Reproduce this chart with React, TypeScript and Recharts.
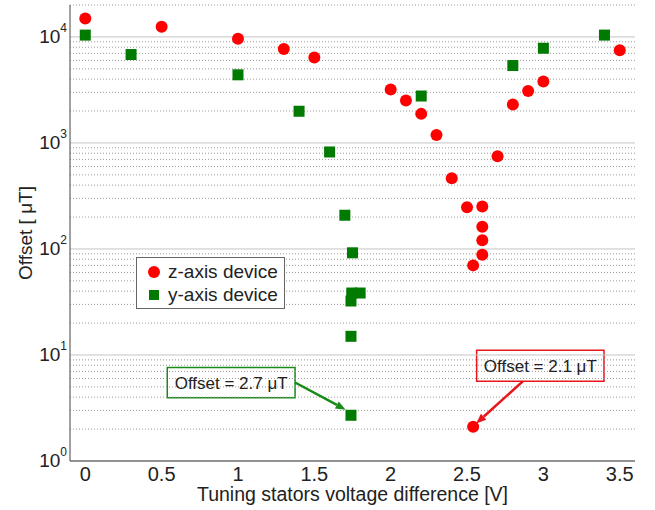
import { ScatterChart, Scatter, XAxis, YAxis, Legend, ReferenceArea, ReferenceLine } from 'recharts';

// z-axis device (red circles)
const Z_VOLT = [0, 0.5, 1, 1.3, 1.5, 2.0, 2.1, 2.2, 2.3, 2.4, 2.5, 2.6, 2.6, 2.6, 2.6, 2.54, 2.54, 2.7, 2.8, 2.9, 3.0, 3.5];
const Z_OFFSET = [14900, 12500, 9600, 7700, 6400, 3190, 2510, 1880, 1190, 464, 247, 251, 162, 121, 88, 70, 2.1, 750, 2300, 3090, 3790, 7500];

// y-axis device (green squares)
const Y_VOLT = [0, 0.3, 1.0, 1.4, 1.6, 1.7, 1.75, 1.745, 1.8, 1.74, 1.74, 1.74, 2.2, 2.8, 3.0, 3.4];
const Y_OFFSET = [10400, 6820, 4390, 1990, 822, 208, 92, 38.4, 38.4, 32.3, 15, 2.7, 2770, 5370, 7820, 10400];

const X_TICKS = [0, 0.5, 1, 1.5, 2, 2.5, 3, 3.5];
const DECADES = [1, 10, 100, 1000, 10000];
const MINOR_STEPS = [2, 3, 4, 5, 6, 7, 8, 9];
const MINORS = DECADES.flatMap(d => MINOR_STEPS.map(m => m * d)).filter(v => v <= 20000);
const Y_DOMAIN = [1, 20000];

// callouts: box corners in data units, arrow start -> end
const NOTES = [
  { text: 'Offset = 2.7 \u03bcT', color: '#1a8a1a', box: [0.537, 1.374, 3.95, 7.6], from: { x: 1.374, y: 5.5 }, to: { x: 1.705, y: 3.05 } },
  { text: 'Offset = 2.1 \u03bcT', color: '#e8161b', box: [2.563, 3.397, 5.64, 11.1], from: { x: 2.865, y: 5.64 }, to: { x: 2.56, y: 2.26 } },
];

const RED = '#ff0000';
const GREEN = '#007a00';
const FONT = '"Liberation Sans", Arial, sans-serif';

const zData = Z_VOLT.map((v, i) => ({ v, o: Z_OFFSET[i] }));
const yData = Y_VOLT.map((v, i) => ({ v, o: Y_OFFSET[i] }));

const LogTick = ({ x, y, payload }: any) => {
  const exp = Math.round(Math.log10(payload.value));
  return (
    <text x={x} y={y} textAnchor="end" fontSize={19} fill="#222" fontFamily={FONT} dy={6}>
      10<tspan dy={-11} fontSize={12}>{exp}</tspan>
    </text>
  );
};

const NoLabel = () => <g />;

const Arrow = (color: string) => (p: any) => {
  const { x1, y1, x2, y2 } = p;
  const a = Math.atan2(y2 - y1, x2 - x1);
  const L = 10, W = 4;
  const bx = x2 - L * Math.cos(a), by = y2 - L * Math.sin(a);
  const pts = `${x2},${y2} ${bx - W * Math.sin(a)},${by + W * Math.cos(a)} ${bx + W * Math.sin(a)},${by - W * Math.cos(a)}`;
  return (
    <g>
      <line x1={x1} y1={y1} x2={bx} y2={by} stroke={color} strokeWidth={2.5} />
      <polygon points={pts} fill={color} />
    </g>
  );
};

const LegendBox = () => (
  <div style={{ border: '1px solid #666', background: '#fff', padding: '2px 6px 2px 10px', fontFamily: FONT, fontSize: 19, color: '#222' }}>
    <div style={{ display: 'flex', alignItems: 'center', height: 23 }}>
      <svg width={14} height={14} style={{ marginRight: 7 }}><circle cx={7} cy={7} r={6} fill={RED} /></svg>
      z-axis device
    </div>
    <div style={{ display: 'flex', alignItems: 'center', height: 23 }}>
      <svg width={14} height={14} style={{ marginRight: 7 }}><rect x={2} y={2} width={10} height={10} fill={GREEN} /></svg>
      y-axis device
    </div>
  </div>
);

export default function App() {
  return (
    <div style={{ position: 'absolute', left: 0, top: 0, background: '#fff' }}>
      <ScatterChart width={655} height={510} margin={{ top: 5, right: 20, left: 0, bottom: 0 }}>
        {MINORS.map(v => (
          <ReferenceLine key={'m' + v} y={v} stroke="#9a9a9a" strokeDasharray="1 2" />
        ))}
        {DECADES.map(v => (
          <ReferenceLine key={'d' + v} y={v} stroke="#c4c4c4" />
        ))}
        <XAxis
          dataKey="v" type="number" domain={[-0.1, 3.6]} ticks={X_TICKS} height={49}
          allowDataOverflow tickSize={0} tickMargin={6} stroke="#444"
          tick={{ fill: '#222', fontSize: 20, fontFamily: FONT }}
          label={{ value: 'Tuning stators voltage difference [V]', position: 'insideBottom', offset: 9, fill: '#222', fontSize: 19.5, fontFamily: FONT }}
        />
        {/* top frame; its tick lines span the plot as the vertical dotted grid */}
        <XAxis xAxisId="top" orientation="top" type="number" domain={[-0.1, 3.6]} ticks={X_TICKS} height={0}
          tick={<NoLabel />} tickSize={456} mirror stroke="#444"
          tickLine={{ stroke: '#8f8f8f', strokeDasharray: '1 2' }} />
        <YAxis
          dataKey="o" type="number" scale="log" domain={Y_DOMAIN} ticks={DECADES} width={70}
          allowDataOverflow tickSize={0} tickMargin={3} stroke="#444" tick={<LogTick />}
          label={{ value: 'Offset [ \u03bcT]', angle: -90, position: 'center', dx: -10, fill: '#222', fontSize: 19, fontFamily: FONT }}
        />
        <YAxis yAxisId="right" orientation="right" type="number" scale="log" domain={Y_DOMAIN} ticks={[...DECADES, ...MINORS]} width={0}
          tick={<NoLabel />} tickSize={4} mirror stroke="#444" />
        {NOTES.map(n => (
          <ReferenceArea key={n.text} x1={n.box[0]} x2={n.box[1]} y1={n.box[2]} y2={n.box[3]} fill="#fff" fillOpacity={1} stroke={n.color} strokeWidth={1.5}
            label={{ value: n.text, position: 'center', fill: '#222', fontSize: 17, fontFamily: FONT }} />
        ))}
        {NOTES.map(n => (
          <ReferenceLine key={n.text + 'a'} segment={[n.from, n.to]} shape={Arrow(n.color)} />
        ))}
        <Scatter name="y-axis device" data={yData} isAnimationActive={false}
          shape={(p: any) => <rect x={p.cx - 5.5} y={p.cy - 5.5} width={11} height={11} fill={GREEN} />} />
        <Scatter name="z-axis device" data={zData} isAnimationActive={false}
          shape={(p: any) => <circle cx={p.cx} cy={p.cy} r={6} fill={RED} />} />
        <Legend layout="vertical" align="center" verticalAlign="middle" content={<LegendBox />}
          wrapperStyle={{ left: 136, top: 257, width: 'auto' }} />
      </ScatterChart>
    </div>
  );
}
